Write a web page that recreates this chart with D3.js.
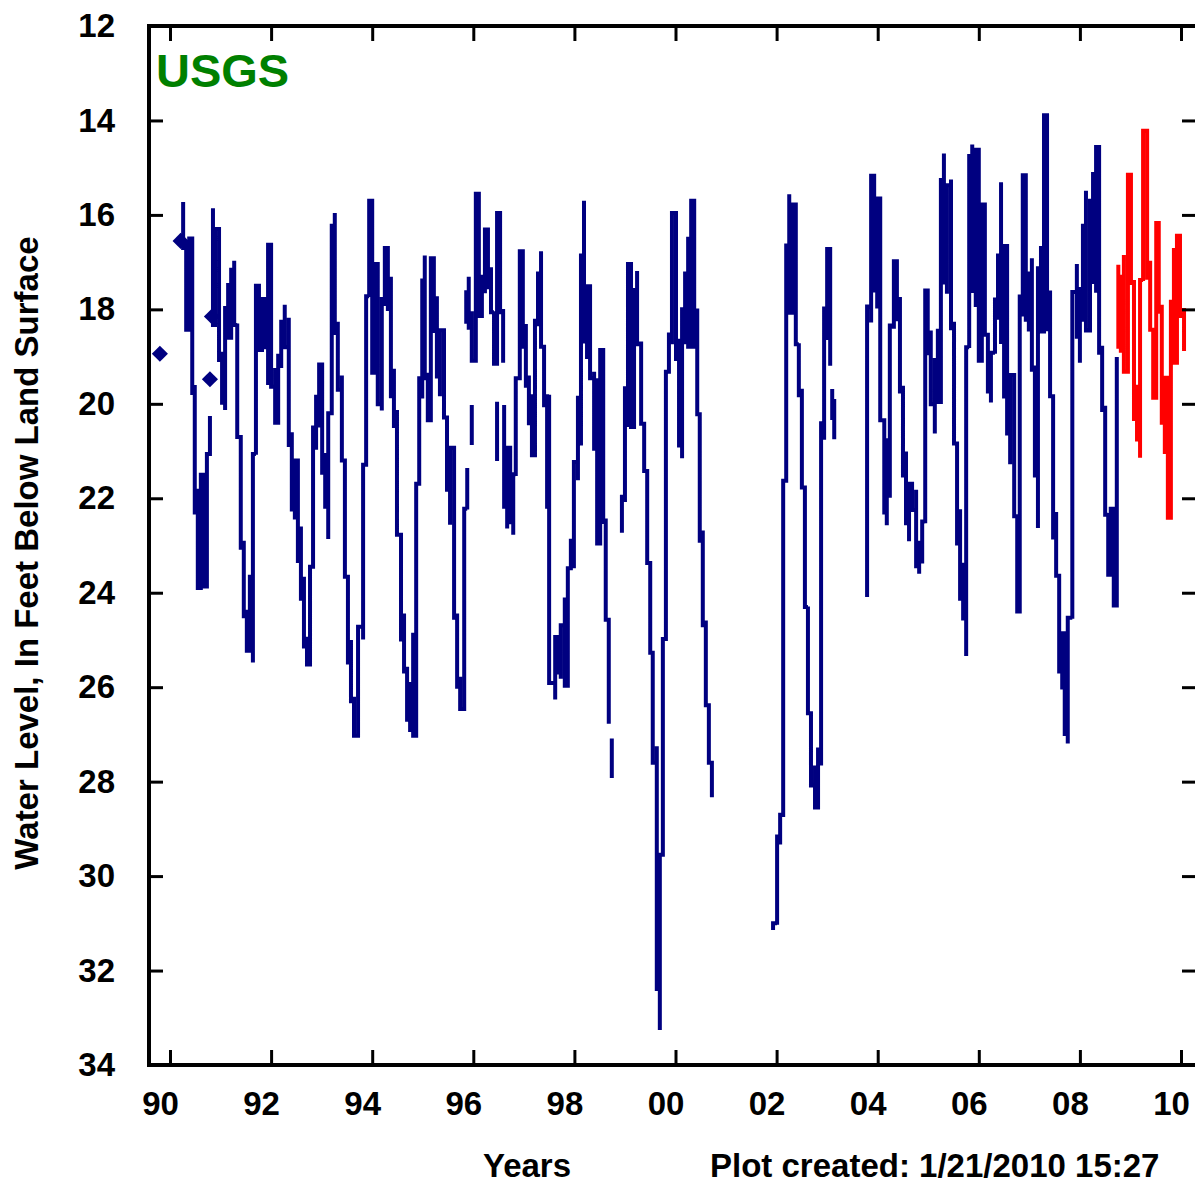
<!DOCTYPE html>
<html>
<head>
<meta charset="utf-8">
<script src="https://cdn.jsdelivr.net/npm/d3@7"></script>
<style>
  body { margin: 0; background: #fff; }
  text { font-family: "Liberation Sans", Arial, sans-serif; font-weight: bold; }
</style>
</head>
<body>
<div id="chart"></div>
<script>
// tick values / labels
var tickYears = [1990, 1992, 1994, 1996, 1998, 2000, 2002, 2004, 2006, 2008, 2010];
var tickYearLabels = ["90", "92", "94", "96", "98", "00", "02", "04", "06", "08", "10"];
var tickLevels = [12, 14, 16, 18, 20, 22, 24, 26, 28, 30, 32, 34];

// blue record (approved data): for each read-off interval, shallowest and deepest level; null = gap
var blueYears = [
  1990.26, 1990.32, 1990.38, 1990.44, 1990.49, 1990.55, 1990.61, 1990.67, 1990.73, 1990.79, null,
  1990.85, 1990.89, 1990.97, 1991.03, 1991.09, 1991.15, 1991.21, 1991.27, 1991.33, 1991.40,
  1991.46, 1991.52, 1991.58, 1991.64, 1991.70, 1991.76, 1991.82, 1991.88, 1991.94, 1992.00,
  1992.08, 1992.14, 1992.20, 1992.27, 1992.35, 1992.41, 1992.47, 1992.53, 1992.59, 1992.65,
  1992.71, 1992.77, 1992.83, 1992.89, 1992.95, 1993.01, 1993.07, 1993.13, 1993.20, 1993.26,
  1993.32, 1993.40, 1993.46, 1993.52, 1993.58, 1993.64, 1993.72, 1993.82, 1993.88, 1993.94,
  1994.00, 1994.06, 1994.11, 1994.19, 1994.25, 1994.31, 1994.37, 1994.43, 1994.49, 1994.57,
  1994.63, 1994.69, 1994.75, 1994.81, 1994.87, 1994.93, 1994.99, 1995.04, 1995.10, 1995.16,
  1995.22, 1995.28, 1995.34, 1995.42, 1995.48, 1995.54, 1995.62, 1995.68, 1995.74, 1995.82,
  1995.88, null,
  1995.86, 1995.91, 1995.97, 1996.05, 1996.11, 1996.17, 1996.23, 1996.29, 1996.35, 1996.41,
  1996.47, 1996.53, 1996.59, null,
  1995.97, null,
  1996.47, null,
  1996.61, 1996.67, 1996.73, 1996.79, 1996.84, 1996.92, 1996.98, 1997.04, 1997.10, 1997.16,
  1997.22, 1997.28, 1997.34, 1997.40, 1997.46, 1997.50, 1997.62, 1997.68, 1997.73, 1997.81,
  1997.87, 1997.93, 1997.99, 1998.07, 1998.13, 1998.19, 1998.25, 1998.31, 1998.39, 1998.45,
  1998.51, 1998.57, 1998.62, 1998.68, null,
  1998.74, null,
  1998.94, 1999.00, 1999.06, 1999.12, 1999.18, 1999.24, 1999.32, 1999.38, 1999.44, 1999.50,
  1999.55, 1999.63, 1999.69, 1999.75, 1999.81, 1999.87, 1999.93, 2000.01, 2000.07, 2000.13,
  2000.19, 2000.25, 2000.31, 2000.37, 2000.43, 2000.48, 2000.54, 2000.60, 2000.66, 2000.72, null,
  2001.93, 2002.01, 2002.07, 2002.13, 2002.19, 2002.25, 2002.32, 2002.38, 2002.44, 2002.50,
  2002.56, 2002.62, 2002.68, 2002.76, 2002.82, 2002.88, 2002.94, 2003.00, 2003.06, null,
  2003.10, 2003.14, null,
  2003.79, 2003.87, 2003.93, 2003.99, 2004.05, 2004.13, 2004.18, 2004.24, 2004.32, 2004.38,
  2004.44, 2004.50, 2004.56, 2004.62, 2004.68, 2004.76, 2004.82, 2004.88, 2004.94, 2004.99,
  2005.05, 2005.13, 2005.19, 2005.25, 2005.31, 2005.37, 2005.45, 2005.51, 2005.57, 2005.63,
  2005.69, 2005.75, 2005.81, 2005.87, 2005.94, 2006.00, 2006.06, 2006.12, 2006.18, 2006.24,
  2006.32, 2006.38, 2006.44, 2006.50, 2006.56, 2006.62, 2006.70, 2006.76, 2006.81, 2006.87,
  2006.93, 2006.99, 2007.05, 2007.11, 2007.17, 2007.23, 2007.29, 2007.35, 2007.41, 2007.47,
  2007.53, 2007.59, 2007.65, 2007.70, 2007.76, 2007.85, 2007.94, 2008.00, 2008.06, 2008.12,
  2008.20, 2008.26, 2008.32, 2008.38, 2008.44, 2008.50, 2008.56, 2008.61, 2008.67, 2008.73
];
var blueTop = [
  15.77, 16.53, 16.50, 17.86, 19.60, 21.80, 21.50, 22.70, 21.06, 20.30, null,
  15.90, 16.30, 16.90, 18.90, 17.97, 17.44, 17.16, 16.97, 18.30, 20.70,
  22.90, 24.36, 23.66, 21.06, 17.50, 17.78, 17.78, 17.90, 16.63, 17.50,
  19.24, 18.98, 18.26, 17.90, 18.18, 20.60, 21.20, 22.30, 22.60, 23.66,
  24.93, 23.45, 20.50, 19.85, 19.17, 19.85, 21.04, 20.20, 16.23, 15.96,
  18.26, 19.40, 21.20, 23.66, 25.00, 26.20, 24.72, 21.29, 17.72, 15.70,
  16.98, 17.04, 18.79, 17.78, 16.70, 16.98, 17.31, 19.26, 20.13, 22.77,
  24.44, 25.57, 25.93, 24.85, 21.69, 19.46, 17.39, 16.86, 19.34, 16.92,
  17.31, 17.72, 18.44, 19.46, 20.29, 20.93, 22.56, 24.44, 25.78, 22.22,
  21.40, null,
  17.64, 17.31, 18.04, 15.55, 17.11, 17.31, 16.31, 16.31, 17.11, 18.04,
  15.96, 16.06, 17.99, null,
  20.07, null,
  20.00, null,
  20.07, 20.93, 21.40, 21.49, 19.46, 16.77, 16.77, 18.31, 19.40, 19.80,
  18.24, 17.24, 16.77, 18.79, 19.80, 19.81, 24.94, 24.94, 24.69, 24.10,
  23.48, 22.90, 21.23, 19.87, 16.86, 15.70, 17.51, 18.68, 19.32, 19.46,
  18.86, 19.67, 22.43, 24.57, null,
  27.13, null,
  21.97, 19.67, 17.04, 18.21, 17.59, 17.19, 18.68, 20.42, 21.42, 23.37,
  25.27, 27.25, 29.55, 24.98, 19.32, 18.53, 15.96, 17.59, 18.62, 18.00,
  17.24, 16.46, 15.70, 17.80, 17.98, 20.22, 22.68, 24.59, 26.38, 27.60, null,
  31.00, 29.16, 28.70, 21.63, 16.65, 15.56, 15.78, 17.50, 18.72, 19.68,
  21.77, 24.29, 26.55, 27.66, 27.32, 20.41, 17.98, 16.72, 18.60, null,
  19.73, 19.90, null,
  17.94, 15.17, 16.26, 15.65, 17.98, 20.35, 20.77, 18.34, 16.98, 17.18,
  17.74, 19.62, 21.01, 21.69, 21.77, 21.82, 22.94, 22.49, 17.60, 18.21,
  18.45, 19.07, 18.41, 15.26, 14.70, 15.37, 15.25, 18.26, 20.84, 22.23,
  23.41, 18.80, 14.75, 14.51, 14.62, 17.19, 15.78, 16.39, 18.54, 18.92,
  17.79, 16.86, 15.31, 16.66, 19.32, 19.39, 20.82, 22.38, 17.73, 15.16,
  16.92, 17.24, 16.92, 19.19, 17.13, 16.66, 13.89, 16.99, 17.60, 19.84,
  22.29, 23.64, 24.86, 25.94, 24.53, 17.63, 17.04, 17.57, 16.23, 15.49,
  15.70, 15.09, 14.56, 15.64, 18.77, 20.04, 22.31, 22.22, 22.18, 19.05
];
var blueBottom = [
  16.70, 18.43, 17.86, 19.77, 22.30, 23.90, 22.98, 23.87, 22.94, 21.06, null,
  18.33, 18.10, 19.07, 19.98, 20.13, 18.60, 17.93, 18.33, 20.70, 23.05,
  24.50, 25.23, 24.93, 25.48, 21.08, 18.86, 18.80, 18.80, 19.60, 19.64,
  20.40, 20.27, 19.24, 18.80, 20.87, 22.24, 22.45, 23.33, 24.13, 25.14,
  25.52, 25.48, 23.45, 20.97, 20.50, 21.46, 22.18, 22.86, 20.20, 18.50,
  19.70, 21.20, 23.66, 25.48, 26.30, 27.03, 26.80, 24.99, 21.29, 17.74,
  19.34, 19.00, 20.01, 20.14, 17.93, 17.99, 19.84, 20.47, 22.77, 24.99,
  25.67, 26.69, 26.95, 27.03, 25.06, 21.69, 19.89, 19.46, 20.35, 19.62,
  18.46, 19.42, 19.84, 20.29, 21.82, 22.56, 24.53, 25.99, 26.46, 26.20,
  22.24, null,
  18.26, 18.39, 19.09, 17.66, 18.14, 18.06, 17.66, 17.53, 18.06, 19.15,
  17.35, 18.06, 19.09, null,
  20.83, null,
  21.17, null,
  22.18, 22.64, 22.51, 22.77, 21.53, 19.46, 18.79, 19.62, 20.41, 21.09,
  20.90, 18.36, 18.79, 20.03, 22.18, 25.91, 26.26, 25.69, 25.82, 25.97,
  24.65, 23.48, 23.48, 21.62, 20.88, 18.68, 19.05, 19.46, 20.95, 22.96,
  20.21, 22.50, 24.57, 26.73, null,
  27.88, null,
  22.69, 22.08, 20.49, 20.49, 18.74, 18.74, 20.42, 21.42, 23.37, 25.27,
  27.60, 32.39, 33.26, 29.55, 24.98, 19.32, 18.74, 19.05, 20.88, 21.15,
  18.74, 18.79, 18.79, 18.79, 20.22, 22.90, 24.69, 26.38, 27.60, 28.29, null,
  31.10, 31.03, 29.33, 28.75, 21.63, 18.07, 17.52, 18.74, 19.82, 21.77,
  24.30, 26.55, 28.08, 28.55, 28.24, 27.66, 20.76, 18.65, 19.15, null,
  20.30, 20.71, null,
  24.05, 18.28, 17.60, 17.98, 20.35, 22.30, 22.57, 21.99, 18.41, 18.21,
  19.74, 21.52, 22.53, 22.91, 22.25, 23.44, 23.60, 23.38, 22.53, 18.93,
  20.01, 20.63, 19.96, 18.41, 17.43, 17.67, 18.40, 20.84, 22.96, 24.13,
  24.59, 25.34, 18.82, 17.61, 17.95, 19.09, 18.22, 18.54, 19.74, 19.97,
  18.94, 18.22, 18.69, 19.89, 20.63, 21.28, 22.38, 24.40, 24.13, 18.15,
  18.22, 18.47, 19.28, 21.52, 22.63, 18.47, 17.67, 18.42, 19.84, 22.83,
  23.64, 25.67, 26.05, 26.99, 27.19, 24.55, 18.58, 19.13, 18.26, 18.45,
  17.80, 17.42, 17.65, 18.92, 20.13, 22.35, 23.62, 23.15, 24.27, 23.00
];

// red record (provisional data)
var redYears = [
  2008.76, 2008.81, 2008.87, 2008.95, 2009.01, 2009.07, 2009.13, 2009.19, 2009.25, 2009.33,
  2009.39, 2009.45, 2009.51, 2009.56, 2009.62, 2009.68, 2009.74, 2009.80, 2009.86, 2009.92,
  2009.98, 2010.06
];
var redTop = [
  17.10, 17.31, 16.85, 15.15, 15.96, 17.38, 19.64, 17.38, 14.22, 15.15,
  16.97, 18.43, 16.17, 16.36, 17.90, 19.45, 21.06, 17.84, 16.70, 16.44,
  17.10, 17.97
];
var redBottom = [
  18.79, 18.92, 19.32, 17.74, 17.44, 20.32, 20.80, 21.14, 17.40, 17.33,
  18.43, 19.87, 19.72, 18.05, 20.40, 21.06, 22.41, 21.38, 19.13, 17.59,
  18.14, 18.84
];

// isolated measurements drawn as markers
var pointYears = [1989.80, 1990.21, 1990.79, 1990.83];
var pointLevels = [18.94, 16.55, 19.48, 18.15];

var W = 1195, H = 1185;

var x = d3.scaleLinear().domain([1990, 2010]).range([170, 1181]);
var y = d3.scaleLinear().domain([12, 34]).range([26, 1065]);

var frame = { left: 149, top: 26, right: 1199, bottom: 1065 };

var svg = d3.select("#chart").append("svg")
    .attr("width", W)
    .attr("height", H);

svg.append("rect")
    .attr("width", W).attr("height", H)
    .attr("fill", "#fff");

// turn each interval (top, bottom) into a vertical run, ordered so the line stays continuous
function trace(years, tops, bottoms) {
    var pts = [];
    var prev = null;
    years.forEach(function(t, i) {
        if (t === null) { pts.push(null); prev = null; return; }
        var a = tops[i], b = bottoms[i], first, second;
        if (prev === null) {
            var nextMid = years[i + 1] != null ? (tops[i + 1] + bottoms[i + 1]) / 2 : b;
            if (nextMid >= (a + b) / 2) { first = a; second = b; } else { first = b; second = a; }
        } else {
            if (Math.abs(prev - a) <= Math.abs(prev - b)) { first = a; second = b; } else { first = b; second = a; }
        }
        pts.push([t, first], [t, second]);
        prev = second;
    });
    return pts;
}

var line = d3.line()
    .defined(function(d) { return d !== null; })
    .curve(d3.curveStepAfter)
    .x(function(d) { return x(d[0]); })
    .y(function(d) { return y(d[1]); });

var plot = svg.append("g");

plot.append("path")
    .datum(trace(blueYears, blueTop, blueBottom))
    .attr("fill", "none")
    .attr("stroke", "#000080")
    .attr("stroke-width", 4)
    .attr("stroke-linejoin", "miter")
    .attr("stroke-linecap", "square")
    .attr("d", line);

plot.append("path")
    .datum(trace(redYears, redTop, redBottom))
    .attr("fill", "none")
    .attr("stroke", "#ff0000")
    .attr("stroke-width", 4)
    .attr("stroke-linejoin", "miter")
    .attr("stroke-linecap", "square")
    .attr("d", line);

plot.selectAll(".pt")
    .data(pointYears)
    .enter().append("path")
    .attr("class", "pt")
    .attr("fill", "#000080")
    .attr("transform", function(d, i) { return "translate(" + x(d) + "," + y(pointLevels[i]) + ") rotate(45)"; })
    .attr("d", d3.symbol().type(d3.symbolSquare).size(130));

// axes with inward ticks on all four sides
function styleAxis(g) {
    g.select(".domain").remove();
    g.selectAll(".tick line").attr("stroke", "#000").attr("stroke-width", 3);
    g.selectAll(".tick text")
        .attr("fill", "#000")
        .style("font-size", "33px")
        .style("font-family", "'Liberation Sans', Arial, sans-serif")
        .style("font-weight", "bold");
}

svg.append("g")
    .attr("transform", "translate(0," + frame.bottom + ")")
    .call(d3.axisBottom(x).tickValues(tickYears)
        .tickFormat(function(d, i) { return tickYearLabels[i]; })
        .tickSizeInner(-15).tickSizeOuter(0).tickPadding(27))
    .call(styleAxis)
    .selectAll(".tick text").attr("dx", -10);

svg.append("g")
    .attr("transform", "translate(0," + frame.top + ")")
    .call(d3.axisTop(x).tickValues(tickYears).tickFormat("")
        .tickSizeInner(-15).tickSizeOuter(0))
    .call(styleAxis);

svg.append("g")
    .attr("transform", "translate(" + frame.left + ",0)")
    .call(d3.axisLeft(y).tickValues(tickLevels).tickFormat(d3.format("d"))
        .tickSizeInner(-14).tickSizeOuter(0).tickPadding(34))
    .call(styleAxis);

svg.append("g")
    .attr("transform", "translate(" + frame.right + ",0)")
    .call(d3.axisRight(y).tickValues(tickLevels).tickFormat("")
        .tickSizeInner(-17).tickSizeOuter(0))
    .call(styleAxis);

svg.append("rect")
    .attr("x", frame.left).attr("y", frame.top)
    .attr("width", frame.right - frame.left)
    .attr("height", frame.bottom - frame.top)
    .attr("fill", "none")
    .attr("stroke", "#000")
    .attr("stroke-width", 4);

// labels
svg.append("text")
    .attr("x", 156).attr("y", 87)
    .attr("fill", "#008000")
    .style("font-size", "47px")
    .text("USGS");

svg.append("text")
    .attr("transform", "translate(38,553) rotate(-90)")
    .attr("text-anchor", "middle")
    .attr("fill", "#000")
    .style("font-size", "33px")
    .text("Water Level, In Feet Below Land Surface");

svg.append("text")
    .attr("x", 527).attr("y", 1177)
    .attr("text-anchor", "middle")
    .style("font-size", "33px")
    .text("Years");

svg.append("text")
    .attr("x", 710).attr("y", 1177)
    .style("font-size", "33px")
    .text("Plot created: 1/21/2010 15:27");
</script>
</body>
</html>
